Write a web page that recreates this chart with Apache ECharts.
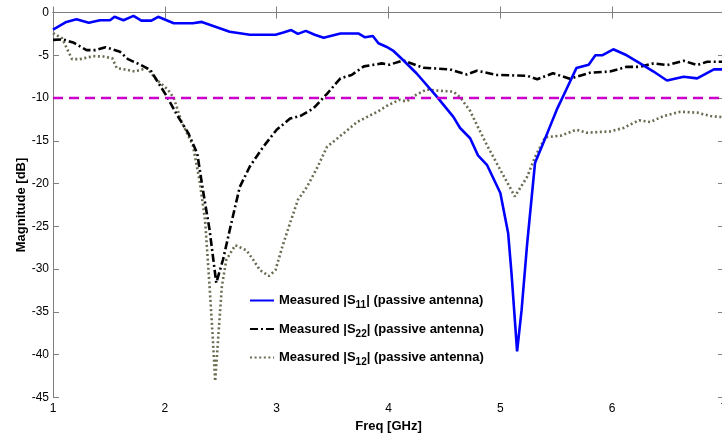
<!DOCTYPE html>
<html>
<head>
<meta charset="utf-8">
<script src="https://cdn.jsdelivr.net/npm/echarts@6/dist/echarts.min.js"></script>
<style>
  html, body { margin: 0; padding: 0; background: #ffffff; }
  #chart { width: 722px; height: 437px; }
</style>
</head>
<body>
<div id="chart"></div>
<script>
// ---- data ----
var s11Freq = [1.00,1.12,1.21,1.32,1.42,1.51,1.55,1.63,1.72,1.79,1.88,1.94,2.08,2.25,2.33,2.58,2.76,2.99,3.06,3.13,3.19,3.26,3.34,3.42,3.57,3.73,3.79,3.86,3.91,3.98,4.04,4.13,4.25,4.43,4.58,4.64,4.73,4.80,4.88,5.00,5.07,5.10,5.15,5.19,5.24,5.31,5.42,5.51,5.59,5.68,5.79,5.85,5.91,6.01,6.13,6.25,6.37,6.49,6.64,6.76,6.91,7.00];
var s11Mag  = [-2.0,-1.1,-0.8,-1.2,-0.9,-0.9,-0.5,-0.9,-0.4,-0.95,-0.95,-0.5,-1.25,-1.25,-1.1,-2.25,-2.6,-2.6,-2.35,-2.05,-2.5,-2.15,-2.6,-2.95,-2.45,-2.45,-2.9,-2.75,-3.6,-4.0,-4.45,-5.55,-7.1,-9.8,-12.2,-13.5,-14.7,-16.7,-17.8,-21.1,-25.8,-30.5,-39.6,-34.8,-27.0,-17.6,-14.1,-11.2,-9.0,-6.5,-6.1,-5.0,-5.0,-4.3,-5.0,-5.95,-6.9,-7.95,-7.5,-7.7,-6.65,-6.65];

var s22Freq = [1.00,1.09,1.18,1.30,1.38,1.47,1.60,1.67,1.78,1.87,1.96,2.02,2.11,2.21,2.29,2.34,2.40,2.46,2.52,2.60,2.67,2.76,2.88,3.00,3.12,3.21,3.33,3.45,3.57,3.67,3.78,3.94,4.01,4.13,4.31,4.43,4.55,4.70,4.79,4.97,5.24,5.33,5.47,5.62,5.80,5.98,6.13,6.25,6.37,6.49,6.64,6.76,6.85,7.00];
var s22Mag  = [-3.2,-3.15,-3.5,-4.4,-4.4,-4.05,-4.6,-5.45,-6.1,-6.7,-8.6,-9.85,-12.0,-14.1,-16.5,-20.7,-25.4,-31.6,-28.9,-24.3,-20.4,-18.0,-15.7,-13.7,-12.4,-12.1,-11.2,-9.5,-7.7,-7.3,-6.3,-5.95,-6.1,-5.6,-6.45,-6.55,-6.65,-7.25,-6.8,-7.3,-7.4,-7.8,-7.1,-7.75,-7.05,-6.9,-6.35,-6.35,-5.95,-6.15,-5.65,-6.15,-5.75,-5.75];

var s12Freq = [1.00,1.08,1.17,1.24,1.36,1.45,1.53,1.57,1.66,1.73,1.84,1.93,2.03,2.08,2.15,2.25,2.31,2.36,2.40,2.43,2.45,2.48,2.51,2.55,2.63,2.73,2.79,2.85,2.93,2.99,3.05,3.12,3.19,3.27,3.36,3.45,3.60,3.72,3.81,3.90,4.00,4.10,4.16,4.25,4.34,4.46,4.58,4.64,4.73,4.80,4.88,5.00,5.13,5.24,5.31,5.40,5.54,5.68,5.77,5.98,6.10,6.24,6.34,6.46,6.61,6.76,6.88,7.00];
var s12Mag  = [-2.4,-3.0,-5.45,-5.45,-5.1,-5.15,-5.35,-6.5,-6.7,-6.9,-6.5,-7.9,-9.05,-10.0,-12.8,-15.5,-19.6,-24.3,-32.0,-38.3,-43.1,-37.5,-32.0,-28.9,-27.2,-27.8,-28.9,-30.1,-30.8,-30.1,-27.4,-24.6,-21.9,-20.4,-18.2,-15.7,-14.1,-12.8,-12.2,-11.6,-10.8,-10.2,-10.4,-9.6,-9.0,-9.15,-9.25,-9.9,-11.5,-13.4,-15.5,-18.4,-21.5,-19.2,-16.9,-14.6,-14.4,-13.7,-14.05,-13.9,-13.5,-12.6,-12.8,-12.1,-11.6,-11.7,-12.1,-12.25];

var thresholdFreq = [1, 7];
var thresholdMag = [-10, -10];

var seriesNames = ['Measured |S11| (passive antenna)', 'Measured |S22| (passive antenna)', 'Measured |S12| (passive antenna)'];
var xTicks = [1, 2, 3, 4, 5, 6, 7];
var yTicks = [-45, -40, -35, -30, -25, -20, -15, -10, -5, 0];

function pairs(xs, ys) { return xs.map(function (x, i) { return [x, ys[i]]; }); }

var axisGrey = '#7f7f7f';
var fontFam = '"Liberation Sans", Arial, sans-serif';

var chart = echarts.init(document.getElementById('chart'), null, { renderer: 'canvas' });
chart.setOption({
  animation: false,
  backgroundColor: '#ffffff',
  grid: { left: 53, top: 12.5, right: -2, bottom: 39.5, containLabel: false, outerBoundsMode: 'none' },
  xAxis: [{
    type: 'value', min: xTicks[0], max: xTicks[xTicks.length - 1], interval: 1,
    name: 'Freq [GHz]', nameLocation: 'middle', nameGap: 22, nameMoveOverlap: false,
    nameTextStyle: { fontFamily: fontFam, fontWeight: 'bold', fontSize: 13, color: '#000' },
    axisLine: { lineStyle: { color: axisGrey, width: 1 } },
    axisTick: { inside: true, length: 6, lineStyle: { color: axisGrey } },
    axisLabel: { fontFamily: fontFam, fontSize: 12, color: '#000', margin: 5 },
    splitLine: { show: false }
  }, {
    type: 'value', position: 'top', min: xTicks[0], max: xTicks[xTicks.length - 1], interval: 1,
    axisLine: { lineStyle: { color: axisGrey, width: 1 } },
    axisTick: { inside: true, length: 6, lineStyle: { color: axisGrey } },
    axisLabel: { show: false }, splitLine: { show: false }
  }],
  yAxis: [{
    type: 'value', min: yTicks[0], max: yTicks[yTicks.length - 1], interval: 5,
    name: 'Magnitude [dB]', nameLocation: 'middle', nameGap: 25, nameRotate: 90, nameMoveOverlap: false,
    nameTextStyle: { fontFamily: fontFam, fontWeight: 'bold', fontSize: 13, color: '#000' },
    axisLine: { show: true, lineStyle: { color: axisGrey, width: 1 } },
    axisTick: { show: true, inside: true, length: 6, lineStyle: { color: axisGrey } },
    axisLabel: { fontFamily: fontFam, fontSize: 12, color: '#000', margin: 4 },
    splitLine: { show: false }
  }, {
    type: 'value', position: 'right', min: yTicks[0], max: yTicks[yTicks.length - 1], interval: 5,
    axisLine: { show: true, lineStyle: { color: axisGrey, width: 1 } },
    axisTick: { show: true, inside: true, length: 6, lineStyle: { color: axisGrey } },
    axisLabel: { show: false }, splitLine: { show: false }
  }],
  legend: {
    data: seriesNames,
    orient: 'vertical', left: 244, top: 289,
    itemWidth: 24, itemHeight: 14, itemGap: 12,
    backgroundColor: 'transparent', borderWidth: 0,
    itemStyle: { opacity: 0 },
    formatter: function (name) { return name.replace(/S(\d\d)/, 'S{sub|$1}'); },
    textStyle: {
      fontFamily: fontFam, fontWeight: 'bold', fontSize: 13, color: '#000',
      rich: { sub: { fontFamily: fontFam, fontWeight: 'bold', fontSize: 10, color: '#000', padding: [10, 0, 0, 0] } }
    }
  },
  series: [{
    name: seriesNames[0], type: 'line', data: pairs(s11Freq, s11Mag),
    symbol: 'none', smooth: false,
    lineStyle: { color: '#0000ff', width: 2.6, type: 'solid' }, itemStyle: { color: '#0000ff' }, z: 4
  }, {
    name: seriesNames[1], type: 'line', data: pairs(s22Freq, s22Mag),
    symbol: 'none',
    lineStyle: { color: '#000000', width: 2.6, type: [8, 3, 2, 3] }, itemStyle: { color: '#000000' }, z: 3
  }, {
    name: seriesNames[2], type: 'line', data: pairs(s12Freq, s12Mag),
    symbol: 'none',
    lineStyle: { color: '#6b6b52', width: 2.6, type: [2, 2.6] }, itemStyle: { color: '#6b6b52' }, z: 2
  }, {
    name: 'threshold', type: 'line', data: pairs(thresholdFreq, thresholdMag),
    symbol: 'none',
    lineStyle: { color: '#cc00cc', width: 2.6, type: [10, 6] }, z: 5
  }]
});
</script>
</body>
</html>
